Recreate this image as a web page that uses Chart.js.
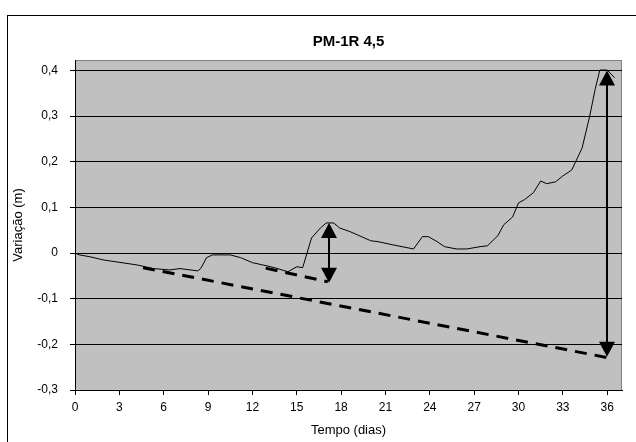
<!DOCTYPE html>
<html>
<head>
<meta charset="utf-8">
<title>PM-1R 4,5</title>
<script src="https://cdn.jsdelivr.net/npm/chart.js@4/dist/chart.umd.min.js"></script>
<style>
    body { margin: 0; background: #fff; }
    #wrap { width: 636px; height: 442px; }
</style>
</head>
<body>
<div id="wrap"><canvas id="pmChart" width="636" height="442"></canvas></div>
<script>
// Measured series (tempo em dias, variação em m)
const days = [0, 0.3, 1.0, 1.9, 4.2, 5.3, 6.4, 7.1, 8.3, 8.5, 8.9, 9.3, 10.5, 11.2, 12.0, 12.7, 13.5, 14.4, 15.0, 15.4,
    16.0, 16.6, 17.0, 17.5, 17.9, 18.6, 19.1, 20.0, 20.5, 21.5, 22.9, 23.5, 23.9, 24.5, 25.0, 25.8, 26.5, 27.4, 27.9,
    28.6, 29.0, 29.6, 30.0, 30.4, 31.0, 31.5, 31.9, 32.5, 33.0, 33.6, 34.3, 34.8, 35.2, 35.5, 36.0, 36.5];
const variation = [0, -0.004, -0.008, -0.015, -0.026, -0.034, -0.037, -0.034, -0.039, -0.034, -0.010, -0.004, -0.004,
    -0.010, -0.021, -0.026, -0.032, -0.041, -0.030, -0.032, 0.033, 0.055, 0.066, 0.066, 0.055, 0.047, 0.040, 0.027,
    0.025, 0.018, 0.009, 0.036, 0.036, 0.025, 0.014, 0.009, 0.009, 0.014, 0.016, 0.038, 0.062, 0.079, 0.110, 0.117,
    0.132, 0.158, 0.152, 0.156, 0.169, 0.182, 0.230, 0.298, 0.361, 0.401, 0.401, 0.384];

// Dashed trend lines
const trendLongDays = [4.6, 36.0];
const trendLongValues = [-0.032, -0.229];
const trendShortDays = [12.9, 17.1];
const trendShortValues = [-0.033, -0.063];

// Double arrows: day, top value, bottom value
const arrowDays = [17.2, 36.0];
const arrowTops = [0.066, 0.400];
const arrowBottoms = [-0.065, -0.227];

const xTicks = [0, 3, 6, 9, 12, 15, 18, 21, 24, 27, 30, 33, 36];
const yTicks = [-0.3, -0.2, -0.1, 0, 0.1, 0.2, 0.3, 0.4];

const chartTitle = 'PM-1R 4,5';
const FONT = '"Liberation Sans", Arial, sans-serif';

function toPoints(xs, ys) {
    return xs.map((x, i) => ({ x: x, y: ys[i] }));
}

function formatComma(v) {
    return String(Math.round(v * 10) / 10).replace('.', ',');
}

// Gray plot area, outer frame and title centred over the plot
const backgroundPlugin = {
    id: 'plotBackground',
    beforeDraw(chart) {
        const { ctx, chartArea } = chart;
        ctx.save();
        ctx.fillStyle = '#fff';
        ctx.fillRect(0, 0, chart.width, chart.height);
        ctx.strokeStyle = '#000';
        ctx.lineWidth = 1;
        ctx.strokeRect(7.5, 15.5, chart.width + 20, chart.height + 20);
        ctx.fillStyle = '#c0c0c0';
        ctx.fillRect(chartArea.left, chartArea.top, chartArea.right - chartArea.left, chartArea.bottom - chartArea.top);
        ctx.strokeStyle = '#808080';
        ctx.strokeRect(chartArea.left + 0.5, chartArea.top + 0.5, chartArea.right - chartArea.left - 1, chartArea.bottom - chartArea.top);

        ctx.fillStyle = '#000';
        ctx.font = 'bold 15px ' + FONT;
        ctx.textAlign = 'center';
        ctx.textBaseline = 'middle';
        ctx.fillText(chartTitle, (chartArea.left + chartArea.right) / 2, 42);
        ctx.restore();
    }
};

function arrowHead(ctx, x, tipY, dir) {
    // dir = 1 points up, -1 points down
    const len = 15, half = 8;
    ctx.beginPath();
    ctx.moveTo(x, tipY);
    ctx.lineTo(x - half, tipY + dir * len);
    ctx.lineTo(x + half, tipY + dir * len);
    ctx.closePath();
    ctx.fill();
}

const arrowPlugin = {
    id: 'doubleArrows',
    afterDatasetsDraw(chart) {
        const { ctx, scales } = chart;
        ctx.save();
        ctx.strokeStyle = '#000';
        ctx.fillStyle = '#000';
        ctx.lineWidth = 2;
        arrowDays.forEach((d, i) => {
            const x = Math.round(scales.x.getPixelForValue(d));
            const yTop = scales.y.getPixelForValue(arrowTops[i]);
            const yBot = scales.y.getPixelForValue(arrowBottoms[i]);
            ctx.beginPath();
            ctx.moveTo(x, yTop + 10);
            ctx.lineTo(x, yBot - 10);
            ctx.stroke();
            arrowHead(ctx, x, yTop, 1);
            arrowHead(ctx, x, yBot, -1);
        });
        ctx.restore();
    }
};

new Chart(document.getElementById('pmChart').getContext('2d'), {
    type: 'line',
    data: {
        datasets: [
            {
                label: chartTitle,
                data: toPoints(days, variation),
                borderColor: '#000',
                borderWidth: 1,
                pointRadius: 0,
                tension: 0,
                fill: false
            },
            {
                label: 'tendência longa',
                data: toPoints(trendLongDays, trendLongValues),
                borderColor: '#000',
                borderWidth: 3,
                borderDash: [12, 8],
                pointRadius: 0,
                fill: false
            },
            {
                label: 'tendência curta',
                data: toPoints(trendShortDays, trendShortValues),
                borderColor: '#000',
                borderWidth: 3,
                borderDash: [12, 8],
                pointRadius: 0,
                fill: false
            }
        ]
    },
    options: {
        responsive: false,
        animation: false,
        layout: { padding: { left: 8, right: 14, top: 60, bottom: 0 } },
        plugins: {
            legend: { display: false },
            tooltip: { enabled: false },
            title: { display: false }
        },
        scales: {
            x: {
                type: 'linear',
                min: 0,
                max: 37,
                afterBuildTicks(axis) { axis.ticks = xTicks.map(v => ({ value: v })); },
                afterFit(axis) { axis.height = 52; },
                grid: { drawOnChartArea: false, drawTicks: true, tickLength: 5, color: '#000' },
                border: { color: '#000' },
                ticks: { color: '#000', padding: 5, maxRotation: 0, font: { family: FONT, size: 12 } },
                title: {
                    display: true,
                    text: 'Tempo (dias)',
                    color: '#000',
                    font: { family: FONT, size: 13 },
                    padding: { top: 0, bottom: 4 }
                }
            },
            y: {
                min: -0.3,
                max: 0.423,
                afterBuildTicks(axis) { axis.ticks = yTicks.map(v => ({ value: v })); },
                afterFit(axis) { axis.width = 67; },
                grid: { color: '#000', lineWidth: 1, drawTicks: true, tickLength: 5 },
                border: { color: '#000' },
                ticks: {
                    color: '#000',
                    padding: 12,
                    font: { family: FONT, size: 12 },
                    callback: v => formatComma(v)
                },
                title: {
                    display: true,
                    text: 'Variação (m)',
                    color: '#000',
                    font: { family: FONT, size: 13 },
                    padding: { top: 3, bottom: 0 }
                }
            }
        }
    },
    plugins: [backgroundPlugin, arrowPlugin]
});
</script>
</body>
</html>
